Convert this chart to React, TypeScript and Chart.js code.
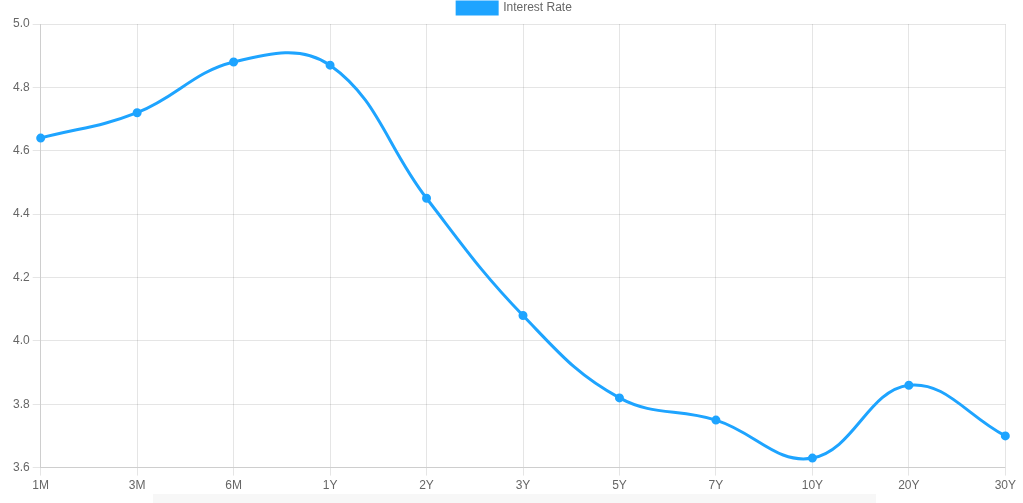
import React, { useEffect, useRef } from "react";
import { Chart, registerables } from "chart.js";

Chart.register(...registerables);

const labels = ["1M", "3M", "6M", "1Y", "2Y", "3Y", "5Y", "7Y", "10Y", "20Y", "30Y"];
const rates = [4.64, 4.72, 4.88, 4.87, 4.45, 4.08, 3.82, 3.75, 3.63, 3.86, 3.7];
const seriesName = "Interest Rate";
const yMin = 3.6;
const yMax = 5.0;
const yStep = 0.2;

export default function App() {
  const ref = useRef<HTMLCanvasElement>(null);
  useEffect(() => {
    if (!ref.current) return;
    const color = "rgb(30,164,255)";
    const font = { family: "'Liberation Sans', Arial, sans-serif", size: 12 };
    const chart = new Chart(ref.current, {
      type: "line",
      data: {
        labels,
        datasets: [
          {
            label: seriesName,
            data: rates,
            borderColor: color,
            backgroundColor: color,
            pointBackgroundColor: color,
            pointBorderColor: color,
            borderWidth: 3,
            pointRadius: 3,
            tension: 0.4,
            fill: false,
          },
        ],
      },
      options: {
        animation: false,
        responsive: false,
        maintainAspectRatio: false,
        layout: { padding: { top: 0, left: 6, right: 0, bottom: 0 } },
        plugins: {
          legend: {
            labels: { boxWidth: 40, boxHeight: 12, color: "#666", font, padding: 6 },
          },
          tooltip: { enabled: false },
        },
        scales: {
          x: {
            ticks: { color: "#666", font, maxRotation: 0 },
            grid: { color: "rgba(0,0,0,0.1)" },
          },
          y: {
            min: yMin,
            max: yMax,
            ticks: { stepSize: yStep, color: "#666", font, callback: (v: any) => Number(v).toFixed(1) },
            grid: { color: "rgba(0,0,0,0.1)" },
          },
        },
      },
    });
    return () => chart.destroy();
  }, []);
  return (
    <div style={{ position: "absolute", left: 0, top: 0, width: 1023, height: 503, overflow: "hidden", background: "#fff" }}>
      <canvas ref={ref} width={1015} height={500} style={{ position: "absolute", left: 4, top: -4 }} />
      <div style={{ position: "absolute", left: 153, top: 494, width: 723, height: 9, background: "#f7f7f7" }} />
    </div>
  );
}
